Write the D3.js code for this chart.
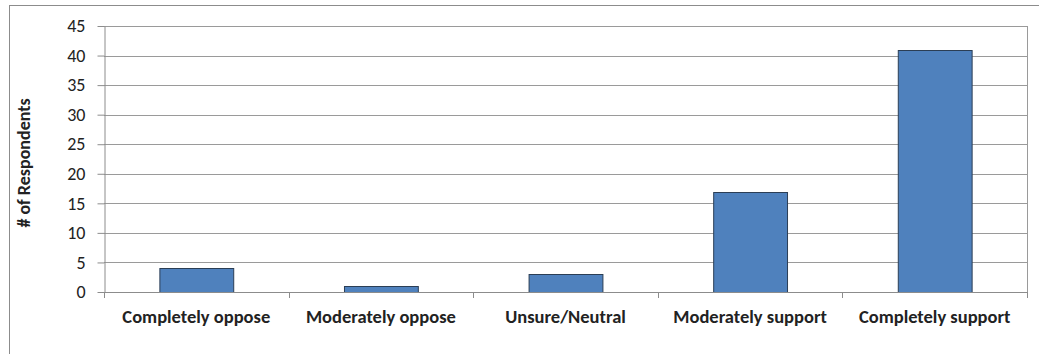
<!DOCTYPE html>
<html><head><meta charset="utf-8">
<script src="https://cdn.jsdelivr.net/npm/d3@7"></script>
<style>body{margin:0;background:#fff}svg{display:block}</style>
</head><body>
<script>
const categories = ["Completely oppose","Moderately oppose","Unsure/Neutral","Moderately support","Completely support"];
const values = [4, 1, 3, 17, 41];
const yTicks = [0,5,10,15,20,25,30,35,40,45];
const yTitle = "# of Respondents";

const W = 1039, H = 354;
const m = {left:104, right:W-1027, top:26, bottom:H-292};
const FONT = "Carlito, Calibri, Lato, sans-serif";
const svg = d3.select("body").append("svg").attr("width",W).attr("height",H);
svg.append("rect").attr("x",9.5).attr("y",5.5).attr("width",W+5).attr("height",H+5)
  .attr("fill","none").attr("stroke","#8c8c8c");

const x = d3.scaleBand().domain(categories).range([m.left, W-m.right]).paddingInner(0.6).paddingOuter(0.3);
const y = d3.scaleLinear().domain([0,45]).range([H-m.bottom, m.top]);

const g = svg.append("g");
g.selectAll(".grid").data(yTicks).join("line")
  .attr("x1",m.left).attr("x2",W-m.right)
  .attr("y1",d=>Math.round(y(d))+0.5).attr("y2",d=>Math.round(y(d))+0.5)
  .attr("stroke","#9a9a9a").attr("stroke-width",1);
g.append("line").attr("x1",W-m.right+0.5).attr("x2",W-m.right+0.5).attr("y1",m.top).attr("y2",H-m.bottom)
  .attr("stroke","#9a9a9a");

g.selectAll(".bar").data(values).join("rect")
  .attr("x",(d,i)=>x(categories[i])+0.5).attr("width",x.bandwidth())
  .attr("y",d=>Math.round(y(d))+0.5).attr("height",d=>Math.round(y(0))-Math.round(y(d)))
  .attr("fill","#4f81bd").attr("stroke","#2b3e55").attr("stroke-width",1);

const ya = svg.append("g").attr("transform",`translate(${m.left+0.5},0)`)
  .call(d3.axisLeft(y).tickValues(yTicks).tickSize(7).tickSizeOuter(0).tickPadding(12));
ya.select(".domain").attr("stroke","#8c8c8c");
ya.selectAll(".tick line").attr("stroke","#8c8c8c");
ya.selectAll("text").attr("font-family",FONT).attr("font-size",18).attr("fill","#222");

const bounds = d3.range(categories.length+1).map(i=>m.left + i*(W-m.left-m.right)/categories.length);
svg.append("g").selectAll("line").data(bounds).join("line")
  .attr("x1",d=>Math.round(d)+0.5).attr("x2",d=>Math.round(d)+0.5)
  .attr("y1",H-m.bottom).attr("y2",H-m.bottom+6).attr("stroke","#8c8c8c");
svg.append("line").attr("x1",m.left).attr("x2",W-m.right).attr("y1",H-m.bottom+0.5).attr("y2",H-m.bottom+0.5).attr("stroke","#8c8c8c");

svg.append("g").selectAll("text").data(categories).join("text")
  .attr("x",d=>x(d)+x.bandwidth()/2).attr("y",323)
  .attr("text-anchor","middle")
  .attr("font-family",FONT).attr("font-weight","bold").attr("font-size",18.5)
  .attr("fill","#222").text(d=>d);

svg.append("text").attr("transform","translate(24,163) rotate(-90)")
  .attr("text-anchor","middle").attr("dy","0.35em")
  .attr("font-family",FONT).attr("font-weight","bold").attr("font-size",18)
  .attr("fill","#222").text(yTitle);
</script>
</body></html>
